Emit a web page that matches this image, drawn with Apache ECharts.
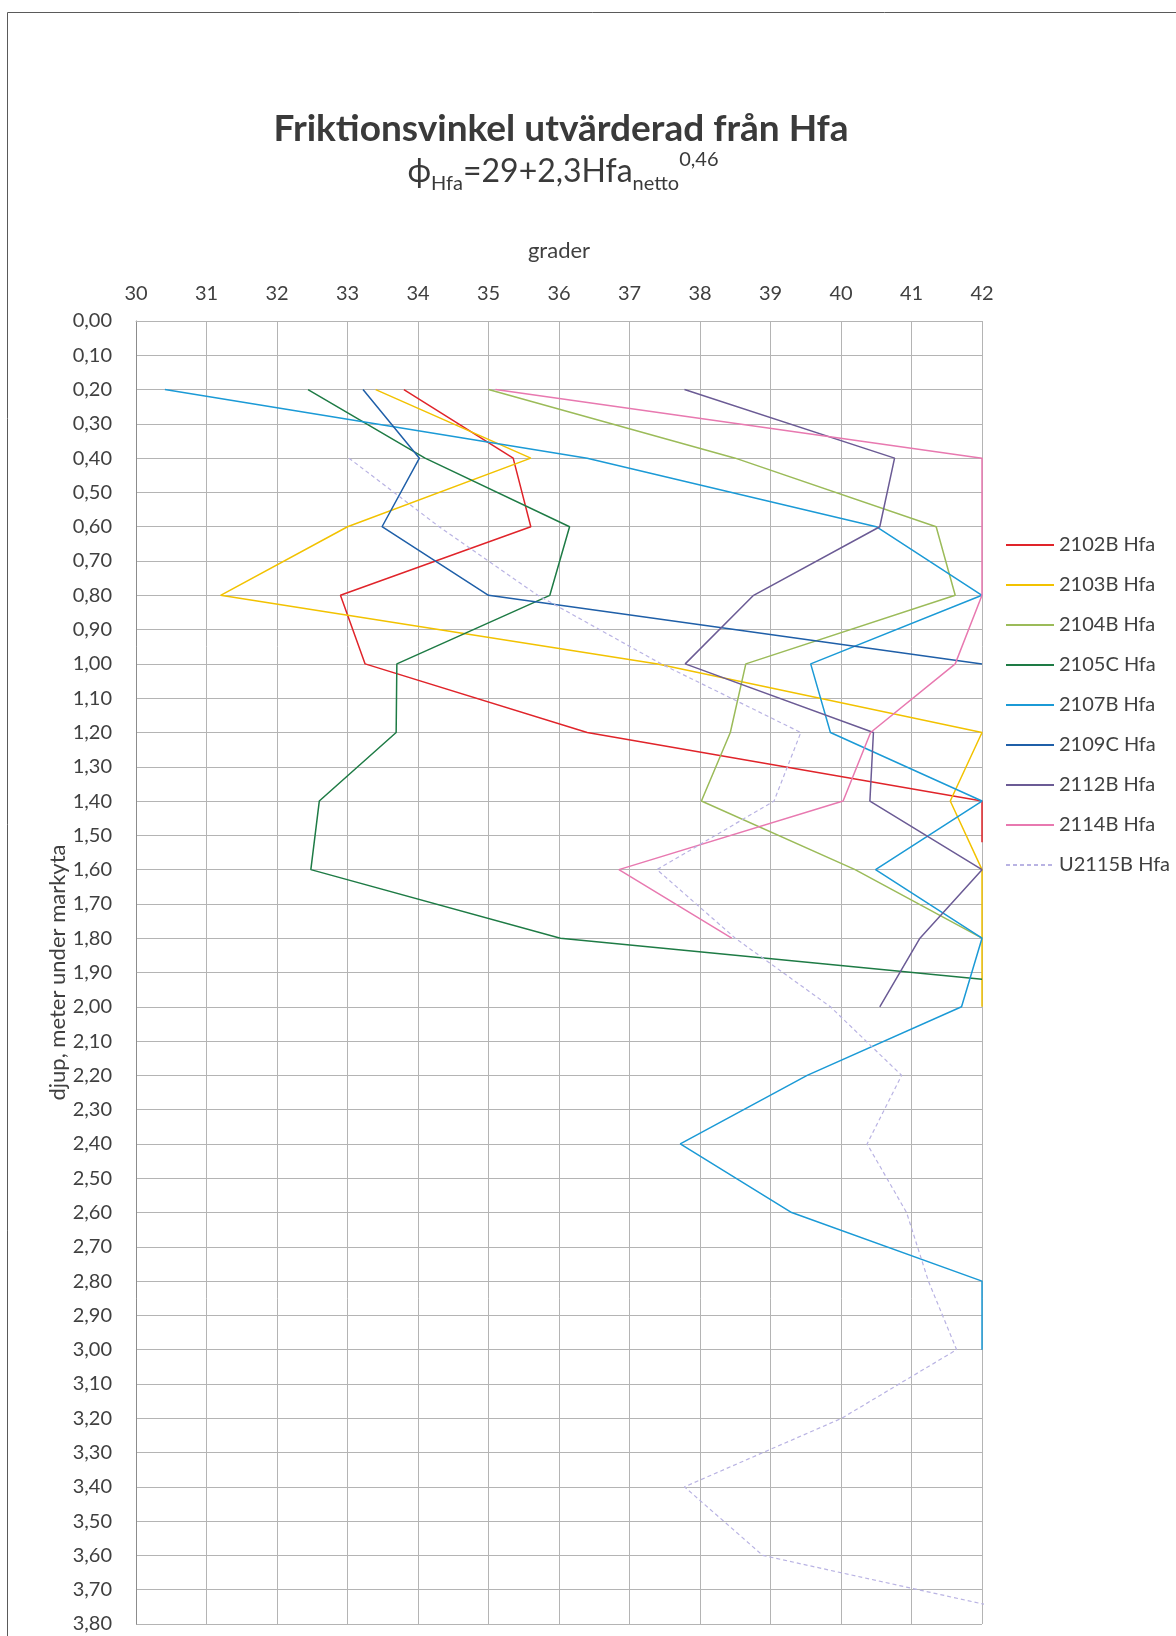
<!DOCTYPE html>
<html>
<head>
<meta charset="utf-8">
<script src="https://cdn.jsdelivr.net/npm/echarts@6/dist/echarts.min.js"></script>
<style>
  html, body { margin: 0; padding: 0; background: #fff; }
  #chart { width: 1176px; height: 1636px; }
</style>
</head>
<body>
<div id="chart"></div>
<script>
// each point: [grader, djup (m)]
var s2102B = [[33.8, 0.2], [35.35, 0.4], [35.6, 0.6], [32.9, 0.8], [33.25, 1.0], [36.4, 1.2], [42, 1.4], [42, 1.52]]
var s2103B = [[33.4, 0.2], [35.6, 0.4], [33.0, 0.6], [31.2, 0.8], [37.4, 1.0], [42, 1.2], [41.55, 1.4], [42, 1.6], [42, 1.8], [42, 2.0]]
var s2104B = [[35.0, 0.2], [38.5, 0.4], [41.35, 0.6], [41.62, 0.8], [38.65, 1.0], [38.43, 1.2], [38.02, 1.4], [40.2, 1.6], [42, 1.8]]
var s2105C = [[32.44, 0.2], [34.1, 0.4], [36.15, 0.6], [35.87, 0.8], [33.7, 1.0], [33.69, 1.2], [32.6, 1.4], [32.48, 1.6], [36.02, 1.8], [42, 1.92]]
var s2107B = [[30.41, 0.2], [36.4, 0.4], [40.5, 0.6], [42, 0.8], [39.57, 1.0], [39.85, 1.2], [42, 1.4], [40.49, 1.6], [42, 1.8], [41.71, 2.0], [39.52, 2.2], [37.72, 2.4], [39.3, 2.6], [42, 2.8], [42, 3.0]]
var s2109C = [[33.22, 0.2], [34.02, 0.4], [33.49, 0.6], [35.0, 0.8], [42, 1.0]]
var s2112B = [[37.78, 0.2], [40.76, 0.4], [40.55, 0.6], [38.76, 0.8], [37.79, 1.0], [40.46, 1.2], [40.41, 1.4], [42, 1.6], [41.12, 1.8], [40.55, 2.0]]
var s2114B = [[35.1, 0.2], [42, 0.4], [42, 0.6], [42, 0.8], [41.62, 1.0], [40.42, 1.2], [40.03, 1.4], [36.85, 1.6], [38.45, 1.8]]
var sU2115B = [[33.02, 0.4], [34.3, 0.6], [35.7, 0.8], [37.45, 1.0], [39.43, 1.2], [39.05, 1.4], [37.39, 1.6], [38.5, 1.8], [39.85, 2.0], [40.86, 2.2], [40.37, 2.4], [40.93, 2.6], [41.24, 2.8], [41.64, 3.0], [40.01, 3.2], [37.78, 3.4], [38.89, 3.6], [43.3, 3.8]]

var seriesNames = ['2102B Hfa', '2103B Hfa', '2104B Hfa', '2105C Hfa', '2107B Hfa', '2109C Hfa', '2112B Hfa', '2114B Hfa', 'U2115B Hfa']
var seriesData = [s2102B, s2103B, s2104B, s2105C, s2107B, s2109C, s2112B, s2114B, sU2115B]
var seriesColors = ['#e0242a', '#f2c200', '#9bbb59', '#1e7b45', '#1b9ad6', '#1f5fa8', '#6b5b95', '#e879b0', '#b9b3e3']

var font = 'Lato'
var textColor = '#404040'

var chart = echarts.init(document.getElementById('chart'))

var series = seriesData.map(function (d, i) {
  var dashed = seriesNames[i] === 'U2115B Hfa'
  return {
    name: seriesNames[i],
    type: 'line',
    data: d,
    symbol: 'none',
    silent: true,
    lineStyle: {
      color: seriesColors[i],
      width: dashed ? 1.2 : 1.5,
      type: dashed ? [4, 3] : 'solid'
    },
    itemStyle: { color: seriesColors[i] }
  }
})

chart.setOption({
  backgroundColor: '#fff',
  animation: false,
  grid: {
    left: 136,
    top: 321,
    right: 194,
    bottom: 12
  },
  xAxis: {
    type: 'value',
    position: 'top',
    min: 30,
    max: 42,
    interval: 1,
    name: 'grader',
    nameLocation: 'middle',
    nameGap: 59,
    nameTextStyle: { fontFamily: font, fontSize: 22, color: textColor },
    axisLine: { show: true, lineStyle: { color: '#b4b4b4' } },
    axisTick: { show: false },
    axisLabel: { fontFamily: font, fontSize: 20, color: textColor, margin: 17 },
    splitLine: { show: true, lineStyle: { color: '#b4b4b4', width: 1 } }
  },
  yAxis: {
    type: 'value',
    inverse: true,
    min: 0,
    max: 3.8,
    interval: 0.1,
    name: 'djup, meter under markyta',
    nameLocation: 'middle',
    nameRotate: 90,
    nameGap: 67,
    nameMoveOverlap: false,
    nameTextStyle: { fontFamily: font, fontSize: 22, color: textColor },
    axisLine: { show: true, lineStyle: { color: '#8c8c8c' } },
    axisTick: { show: false },
    axisLabel: {
      fontFamily: font,
      fontSize: 20,
      color: textColor,
      margin: 24,
      formatter: function (v) { return v.toFixed(2).replace('.', ',') }
    },
    splitLine: { show: true, lineStyle: { color: '#b4b4b4', width: 1 } }
  },
  legend: {
    data: seriesNames,
    orient: 'vertical',
    left: 1000,
    top: 530,
    itemWidth: 48,
    itemHeight: 14,
    itemGap: 20,
    selectedMode: false,
    itemStyle: { color: 'rgba(0,0,0,0)', borderWidth: 0, opacity: 0 },
    textStyle: { fontFamily: font, fontSize: 20, lineHeight: 20, color: textColor }
  },
  graphic: [
    {
      type: 'rect',
      silent: true,
      shape: { x: 7.5, y: 12.5, width: 1200, height: 1700 },
      style: { fill: 'none', stroke: '#5a5a5a', lineWidth: 1 }
    },
    {
      type: 'text',
      silent: true,
      x: 561,
      y: 129,
      style: {
        text: 'Friktionsvinkel utvärderad från Hfa',
        fontFamily: font,
        fontWeight: 'bold',
        fontSize: 37,
        fill: '#3a3a3a',
        align: 'center',
        verticalAlign: 'middle'
      }
    },
    {
      type: 'text',
      silent: true,
      x: 563,
      y: 172,
      style: {
        text: '{m|ϕ}{sub|Hfa}{m|=29+2,3Hfa}{sub|netto}{sup|0,46}',
        align: 'center',
        verticalAlign: 'middle',
        rich: {
          m: { fontFamily: font, fontSize: 32, lineHeight: 44, fill: '#3a3a3a', verticalAlign: 'middle' },
          sub: { fontFamily: font, fontSize: 20, lineHeight: 20, fill: '#3a3a3a', verticalAlign: 'bottom' },
          sup: { fontFamily: font, fontSize: 20, lineHeight: 20, fill: '#3a3a3a', verticalAlign: 'top' }
        }
      }
    }
  ],
  series: series
})
</script>
</body>
</html>
